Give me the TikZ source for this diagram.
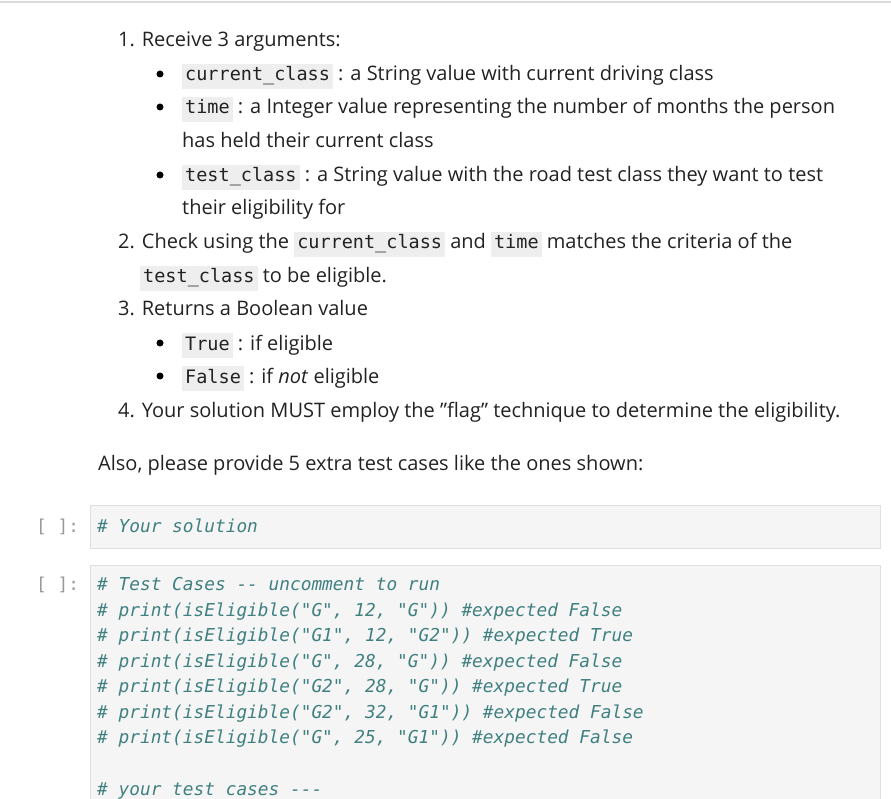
\documentclass[tikz,border=0pt]{standalone}
\usepackage{fontspec}
\setmainfont{Open Sans}[Ligatures=ResetAll]
\setmonofont{DejaVu Sans Mono}
\definecolor{codebg}{HTML}{EEEEEE}
\definecolor{cellbg}{HTML}{F5F5F5}
\definecolor{cellbd}{HTML}{DFDFDF}
\definecolor{cm}{HTML}{408080}
\definecolor{txt}{HTML}{222222}
\newcommand{\cd}[1]{{\setlength{\fboxsep}{3pt}\colorbox{codebg}{\vphantom{Ag}\fontsize{18.5}{20}\selectfont\ttfamily #1}}}
\newcommand{\qq}{{\char"22}}
\begin{document}
\begin{tikzpicture}[x=1pt,y=-1pt,
  t/.style={anchor=base west,inner sep=0pt,font=\fontsize{20}{22}\selectfont,text=txt},
  cl/.style={anchor=base west,inner sep=0pt,font=\fontsize{17.8}{20}\selectfont\ttfamily\itshape,text=cm},
  pr/.style={anchor=base west,inner sep=0pt,font=\fontsize{17.8}{20}\selectfont\ttfamily,text=black!40},
  cellbox/.style={fill=cellbg,draw=cellbd,line width=0.8pt},
  bul/.style={circle,fill=black,inner sep=0pt,minimum size=7pt}]
\useasboundingbox (0,0) rectangle (891,799);
\draw[black!15,line width=1.5pt] (0,2) -- (891,2);
\node[t] (l1) at (118,47) {1. Receive 3 arguments:};
\node[bul] (b1) at (160,74) {};
\node[t] (l2) at (182,81) {\cd{current\_class} : a String value with current driving class};
\node[bul] (b2) at (160,107) {};
\node[t] (l3) at (182,114) {\cd{time} : a Integer value representing the number of months the person};
\node[t] (l3b) at (182,148) {has held their current class};
\node[bul] (b3) at (160,175) {};
\node[t] (l4) at (182,182) {\cd{test\_class} : a String value with the road test class they want to test};
\node[t] (l4b) at (182,215) {their eligibility for};
\node[t] (l5) at (118,249) {2. Check using the \cd{current\_class} and \cd{time} matches the criteria of the};
\node[t] (l5b) at (140,283) {\cd{test\_class} to be eligible.};
\node[t] (l6) at (118,316) {3. Returns a Boolean value};
\node[bul] (b4) at (160,343) {};
\node[t] (l7) at (182,350) {\cd{True} : if eligible};
\node[bul] (b5) at (160,376) {};
\node[t] (l8) at (182,383) {\cd{False} : if \textit{not} eligible};
\node[t] (l9) at (118,417) {4. Your solution MUST employ the \qq flag\qq{} technique to determine the eligibility.};
\node[t] (l10) at (98,470) {Also, please provide 5 extra test cases like the ones shown:};
\draw[cellbox] (90,505) rectangle (880,548);
\node[pr] (p1) at (36,532) {[ ]:};
\node[cl] (c1) at (97,532) {\# Your solution};
\draw[cellbox] (90,565) rectangle (880,805);
\node[pr] (p2) at (36,590) {[ ]:};
\node[cl] (c2) at (97,590) {\# Test Cases -- uncomment to run};
\node[cl] (c3) at (97,616) {\# print(isEligible("G", 12, "G")) \#expected False};
\node[cl] (c4) at (97,641) {\# print(isEligible("G1", 12, "G2")) \#expected True};
\node[cl] (c5) at (97,667) {\# print(isEligible("G", 28, "G")) \#expected False};
\node[cl] (c6) at (97,692) {\# print(isEligible("G2", 28, "G")) \#expected True};
\node[cl] (c7) at (97,718) {\# print(isEligible("G2", 32, "G1")) \#expected False};
\node[cl] (c8) at (97,743) {\# print(isEligible("G", 25, "G1")) \#expected False};
\node[cl] (c9) at (97,795) {\# your test cases ---};
\end{tikzpicture}
\end{document}
